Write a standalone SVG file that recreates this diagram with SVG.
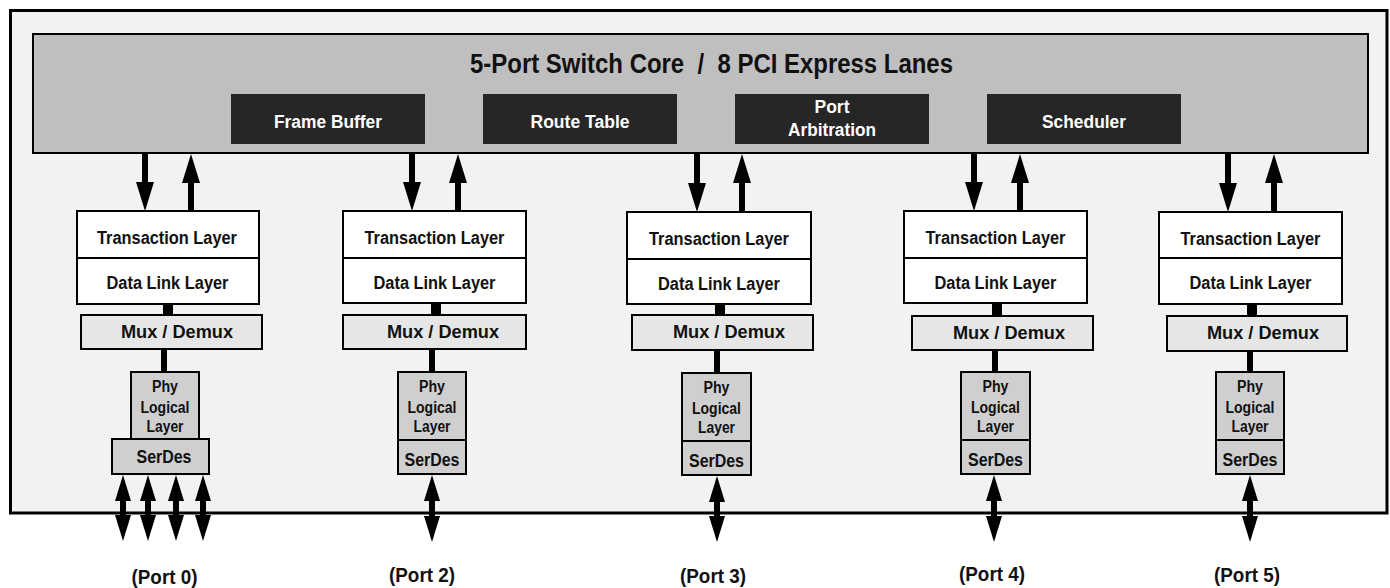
<svg xmlns="http://www.w3.org/2000/svg" width="1390" height="588" viewBox="0 0 1390 588">
<style>
text{font-family:"Liberation Sans",Arial,sans-serif;font-weight:bold;fill:#111;text-anchor:middle}
.frame{fill:#f2f2f2;stroke:#000;stroke-width:3}
.core{fill:#bfbfbf;stroke:#000;stroke-width:2}
.dark{fill:#262626}
.dark-t{fill:#fff;font-size:18px}
.title{font-size:27px}
.tl{fill:#fff;stroke:#000;stroke-width:2}
.mux{fill:#e6e6e6;stroke:#000;stroke-width:2}
.phy{fill:#cfcfcf;stroke:#000;stroke-width:2}
.div{stroke:#000;stroke-width:2}
.t18{font-size:18px}
.t19{font-size:19px}
.t16{font-size:16px}
.port{font-size:20px}
.big{stroke:#000;stroke-width:6;fill:none}
.thick{stroke:#000;stroke-width:10}
.thin{stroke:#000;stroke-width:6}
.lane{stroke:#000;stroke-width:6;fill:none}
</style>
<defs>
<marker id="ah" viewBox="0 0 29 18" refX="0" refY="9" markerWidth="29" markerHeight="18" orient="auto" markerUnits="userSpaceOnUse"><path d="M0,0 L29,9 L0,18 z" fill="#000"/></marker>
<marker id="ahs" viewBox="0 0 26 16" refX="0" refY="8" markerWidth="26" markerHeight="16" orient="auto-start-reverse" markerUnits="userSpaceOnUse"><path d="M0,0 L26,8 L0,16 z" fill="#000"/></marker>
</defs>
<rect width="1390" height="588" fill="#fff"/>
<g id="chassis"><rect class="frame" x="10.5" y="10.5" width="1376.5" height="502.5"/></g>
<g id="core">
<rect class="core" x="33" y="34" width="1335" height="119"/>
<text class="title" x="711.5" y="73" textLength="483" lengthAdjust="spacingAndGlyphs">5-Port Switch Core&#160; /&#160; 8 PCI Express Lanes</text>
</g>
<g id="frame-buffer"><rect class="dark" x="231" y="94" width="194" height="50"/><text class="dark-t" x="328" y="128" textLength="108" lengthAdjust="spacingAndGlyphs">Frame Buffer</text></g>
<g id="route-table"><rect class="dark" x="483" y="94" width="194" height="50"/><text class="dark-t" x="580" y="128" textLength="99" lengthAdjust="spacingAndGlyphs">Route Table</text></g>
<g id="port-arbitration"><rect class="dark" x="735" y="94" width="194" height="50"/><text class="dark-t" x="832" y="113" textLength="35" lengthAdjust="spacingAndGlyphs">Port</text><text class="dark-t" x="832" y="136" textLength="88" lengthAdjust="spacingAndGlyphs">Arbitration</text></g>
<g id="scheduler"><rect class="dark" x="987" y="94" width="194" height="50"/><text class="dark-t" x="1084" y="128" textLength="84" lengthAdjust="spacingAndGlyphs">Scheduler</text></g>

<g id="port0">
<rect class="tl" x="77" y="211" width="182" height="93"/><line class="div" x1="77" y1="258" x2="259" y2="258"/>
<text class="t18" x="167" y="244" textLength="140" lengthAdjust="spacingAndGlyphs">Transaction Layer</text>
<text class="t18" x="167.5" y="289" textLength="122" lengthAdjust="spacingAndGlyphs">Data Link Layer</text>
<rect class="mux" x="81" y="315" width="181" height="34"/>
<text class="t19" x="177" y="338" textLength="112" lengthAdjust="spacingAndGlyphs">Mux / Demux</text>
<rect class="phy" x="131" y="372" width="68" height="67"/>
<text class="t16" x="165" y="392" textLength="26" lengthAdjust="spacingAndGlyphs">Phy</text>
<text class="t16" x="165" y="413" textLength="49" lengthAdjust="spacingAndGlyphs">Logical</text>
<text class="t16" x="165" y="432" textLength="37" lengthAdjust="spacingAndGlyphs">Layer</text>
<rect class="phy" x="112" y="439" width="97" height="35"/>
<text class="t19" x="164" y="463" textLength="55" lengthAdjust="spacingAndGlyphs">SerDes</text>
<text class="port" x="164.5" y="584" textLength="66" lengthAdjust="spacingAndGlyphs">(Port 0)</text>
</g>

<g id="port2">
<rect class="tl" x="343" y="211" width="183" height="92"/><line class="div" x1="343" y1="258" x2="526" y2="258"/>
<text class="t18" x="434.5" y="244" textLength="140" lengthAdjust="spacingAndGlyphs">Transaction Layer</text>
<text class="t18" x="434.5" y="289" textLength="122" lengthAdjust="spacingAndGlyphs">Data Link Layer</text>
<rect class="mux" x="343" y="315" width="183" height="34"/>
<text class="t19" x="443" y="338" textLength="112" lengthAdjust="spacingAndGlyphs">Mux / Demux</text>
<rect class="phy" x="398" y="372" width="68" height="68"/>
<text class="t16" x="432" y="392" textLength="26" lengthAdjust="spacingAndGlyphs">Phy</text>
<text class="t16" x="432" y="413" textLength="49" lengthAdjust="spacingAndGlyphs">Logical</text>
<text class="t16" x="432" y="432" textLength="37" lengthAdjust="spacingAndGlyphs">Layer</text>
<rect class="phy" x="398" y="440" width="68" height="34"/>
<text class="t19" x="432" y="466" textLength="55" lengthAdjust="spacingAndGlyphs">SerDes</text>
<text class="port" x="422" y="582" textLength="66" lengthAdjust="spacingAndGlyphs">(Port 2)</text>
</g>

<g id="port3">
<rect class="tl" x="627" y="212" width="184" height="92"/><line class="div" x1="627" y1="259" x2="811" y2="259"/>
<text class="t18" x="719" y="245" textLength="140" lengthAdjust="spacingAndGlyphs">Transaction Layer</text>
<text class="t18" x="719" y="290" textLength="122" lengthAdjust="spacingAndGlyphs">Data Link Layer</text>
<rect class="mux" x="632" y="315" width="181" height="35"/>
<text class="t19" x="729" y="338" textLength="112" lengthAdjust="spacingAndGlyphs">Mux / Demux</text>
<rect class="phy" x="682" y="373" width="69" height="68"/>
<text class="t16" x="716.5" y="393" textLength="26" lengthAdjust="spacingAndGlyphs">Phy</text>
<text class="t16" x="716.5" y="414" textLength="49" lengthAdjust="spacingAndGlyphs">Logical</text>
<text class="t16" x="716.5" y="433" textLength="37" lengthAdjust="spacingAndGlyphs">Layer</text>
<rect class="phy" x="682" y="441" width="69" height="34"/>
<text class="t19" x="716.5" y="467" textLength="55" lengthAdjust="spacingAndGlyphs">SerDes</text>
<text class="port" x="713" y="583" textLength="66" lengthAdjust="spacingAndGlyphs">(Port 3)</text>
</g>

<g id="port4">
<rect class="tl" x="904" y="211" width="183" height="92"/><line class="div" x1="904" y1="258" x2="1087" y2="258"/>
<text class="t18" x="995.5" y="244" textLength="140" lengthAdjust="spacingAndGlyphs">Transaction Layer</text>
<text class="t18" x="995.5" y="289" textLength="122" lengthAdjust="spacingAndGlyphs">Data Link Layer</text>
<rect class="mux" x="912" y="316" width="181" height="34"/>
<text class="t19" x="1009" y="339" textLength="112" lengthAdjust="spacingAndGlyphs">Mux / Demux</text>
<rect class="phy" x="961" y="372" width="69" height="68"/>
<text class="t16" x="995.5" y="392" textLength="26" lengthAdjust="spacingAndGlyphs">Phy</text>
<text class="t16" x="995.5" y="413" textLength="49" lengthAdjust="spacingAndGlyphs">Logical</text>
<text class="t16" x="995.5" y="432" textLength="37" lengthAdjust="spacingAndGlyphs">Layer</text>
<rect class="phy" x="961" y="440" width="69" height="34"/>
<text class="t19" x="995.5" y="466" textLength="55" lengthAdjust="spacingAndGlyphs">SerDes</text>
<text class="port" x="992" y="581" textLength="66" lengthAdjust="spacingAndGlyphs">(Port 4)</text>
</g>

<g id="port5">
<rect class="tl" x="1159" y="212" width="183" height="92"/><line class="div" x1="1159" y1="258" x2="1342" y2="258"/>
<text class="t18" x="1250.5" y="245" textLength="140" lengthAdjust="spacingAndGlyphs">Transaction Layer</text>
<text class="t18" x="1250.5" y="289" textLength="122" lengthAdjust="spacingAndGlyphs">Data Link Layer</text>
<rect class="mux" x="1167" y="316" width="180" height="35"/>
<text class="t19" x="1263" y="339" textLength="112" lengthAdjust="spacingAndGlyphs">Mux / Demux</text>
<rect class="phy" x="1216" y="372" width="68" height="68"/>
<text class="t16" x="1250" y="392" textLength="26" lengthAdjust="spacingAndGlyphs">Phy</text>
<text class="t16" x="1250" y="413" textLength="49" lengthAdjust="spacingAndGlyphs">Logical</text>
<text class="t16" x="1250" y="432" textLength="37" lengthAdjust="spacingAndGlyphs">Layer</text>
<rect class="phy" x="1216" y="440" width="68" height="34"/>
<text class="t19" x="1250" y="466" textLength="55" lengthAdjust="spacingAndGlyphs">SerDes</text>
<text class="port" x="1247" y="582" textLength="66" lengthAdjust="spacingAndGlyphs">(Port 5)</text>
</g>

<g id="connectors">
<!-- core to transaction layers -->
<line class="big" x1="145" y1="153" x2="145" y2="182" marker-end="url(#ah)"/>
<line class="big" x1="191" y1="211" x2="191" y2="183" marker-end="url(#ah)"/>
<line class="big" x1="412" y1="153" x2="412" y2="182" marker-end="url(#ah)"/>
<line class="big" x1="458" y1="211" x2="458" y2="183" marker-end="url(#ah)"/>
<line class="big" x1="697" y1="153" x2="697" y2="183" marker-end="url(#ah)"/>
<line class="big" x1="742" y1="212" x2="742" y2="183" marker-end="url(#ah)"/>
<line class="big" x1="974" y1="153" x2="974" y2="182" marker-end="url(#ah)"/>
<line class="big" x1="1020" y1="211" x2="1020" y2="183" marker-end="url(#ah)"/>
<line class="big" x1="1228" y1="153" x2="1228" y2="183" marker-end="url(#ah)"/>
<line class="big" x1="1274" y1="212" x2="1274" y2="183" marker-end="url(#ah)"/>
<!-- data link to mux -->
<line class="thick" x1="168" y1="304" x2="168" y2="315"/>
<line class="thick" x1="436" y1="303" x2="436" y2="315"/>
<line class="thick" x1="720" y1="304" x2="720" y2="315"/>
<line class="thick" x1="997" y1="303" x2="997" y2="316"/>
<line class="thick" x1="1252" y1="304" x2="1252" y2="316"/>
<!-- mux to phy -->
<line class="thin" x1="164" y1="349" x2="164" y2="372"/>
<line class="thin" x1="432" y1="349" x2="432" y2="372"/>
<line class="thin" x1="717" y1="350" x2="717" y2="373"/>
<line class="thin" x1="995" y1="350" x2="995" y2="372"/>
<line class="thin" x1="1250" y1="351" x2="1250" y2="372"/>
<!-- serdes lanes -->
<line class="lane" x1="123" y1="501" x2="123" y2="515" marker-start="url(#ahs)" marker-end="url(#ahs)"/>
<line class="lane" x1="148" y1="501" x2="148" y2="515" marker-start="url(#ahs)" marker-end="url(#ahs)"/>
<line class="lane" x1="176" y1="501" x2="176" y2="515" marker-start="url(#ahs)" marker-end="url(#ahs)"/>
<line class="lane" x1="203" y1="501" x2="203" y2="515" marker-start="url(#ahs)" marker-end="url(#ahs)"/>
<line class="lane" x1="432" y1="501" x2="432" y2="516" marker-start="url(#ahs)" marker-end="url(#ahs)"/>
<line class="lane" x1="717" y1="502" x2="717" y2="516" marker-start="url(#ahs)" marker-end="url(#ahs)"/>
<line class="lane" x1="994" y1="501" x2="994" y2="516" marker-start="url(#ahs)" marker-end="url(#ahs)"/>
<line class="lane" x1="1250" y1="501" x2="1250" y2="516" marker-start="url(#ahs)" marker-end="url(#ahs)"/>
</g>
</svg>
